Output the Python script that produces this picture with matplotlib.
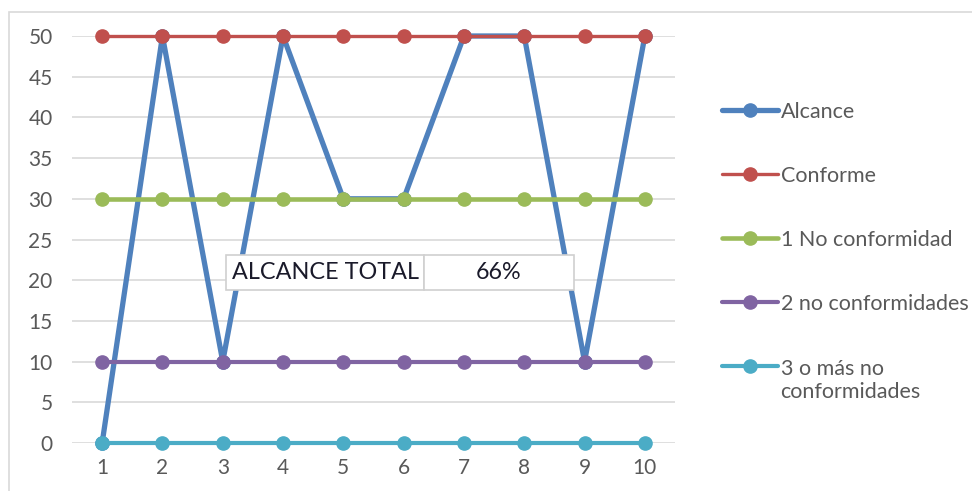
import matplotlib
matplotlib.use('Agg')
import matplotlib.pyplot as plt
from matplotlib.patches import Rectangle

# data
x = [1, 2, 3, 4, 5, 6, 7, 8, 9, 10]
alcance = [0, 50, 10, 50, 30, 30, 50, 50, 10, 50]
conforme = [50, 50, 50, 50, 50, 50, 50, 50, 50, 50]
una_nc = [30, 30, 30, 30, 30, 30, 30, 30, 30, 30]
dos_nc = [10, 10, 10, 10, 10, 10, 10, 10, 10, 10]
tres_nc = [0, 0, 0, 0, 0, 0, 0, 0, 0, 0]
labels = ['Alcance', 'Conforme', '1 No conformidad', '2 no conformidades',
          '3 o más no\nconformidades']
table_text = [['ALCANCE TOTAL', '66%']]

plt.rcParams['font.family'] = ['Lato', 'DejaVu Sans']

fig = plt.figure(figsize=(9.72, 4.91), dpi=100)
ax = fig.add_axes([72/972, 1 - 443/491, 603/972, 407/491])

# chart area border
fig.patches.append(Rectangle((9/972, -0.1), 1.2, 0.1 + 1 - 12/491,
                             transform=fig.transFigure, fill=False,
                             edgecolor='#d9d9d9', linewidth=1.2))

series = [alcance, conforme, una_nc, dos_nc, tres_nc]
colors = ['#4f81bd', '#c0504d', '#9bbb59', '#8064a2', '#4bacc6']
widths = [3.8, 2.4, 3.3, 3.0, 3.0]
for s, c, w, lab in zip(series, colors, widths, labels):
    ax.plot(x, s, color=c, linewidth=w, marker='o', markersize=9.5,
            label=lab, solid_capstyle='round', clip_on=False)

ax.set_xlim(0.5, 10.5)
ax.set_ylim(0, 50)
ax.set_xticks(x)
ax.set_yticks(range(0, 51, 5))
ax.tick_params(length=0, labelsize=15, colors='#595959', pad=14)
ax.tick_params(axis='x', pad=11)
ax.grid(axis='y', color='#d9d9d9', linewidth=1.2)
ax.set_axisbelow(True)
for sp in ax.spines.values():
    sp.set_visible(False)

# summary table
tb = ax.table(cellText=table_text, cellLoc='center',
              bbox=[(226-72)/603, 1-(290-36)/407, (574-226)/603, 35/407],
              colWidths=[198, 150])
tb.auto_set_font_size(False)
for (r, c), cell in tb.get_celld().items():
    cell.set_edgecolor('#d0d0d0')
    cell.set_linewidth(1.2)
    cell.get_text().set_fontsize(16.8)
    cell.get_text().set_color('#1a1a2a')
    if c == 0:
        cell.get_text().set_ha('left')
        cell.PAD = 0.03
tb.set_zorder(5)

leg = fig.legend(loc='upper left', bbox_to_anchor=(722/972, 1 - 102/491),
                 frameon=False, fontsize=15.5, handlelength=2.6,
                 handletextpad=0.12, labelspacing=2.05, borderpad=0,
                 borderaxespad=0)
for t in leg.get_texts():
    t.set_color('#595959')
# keep the marker of the two-line entry level with its first line
for col in leg._legend_handle_box.get_children():
    for row in col.get_children():
        row.align = 'top'

fig.savefig('out.png', dpi=100)
